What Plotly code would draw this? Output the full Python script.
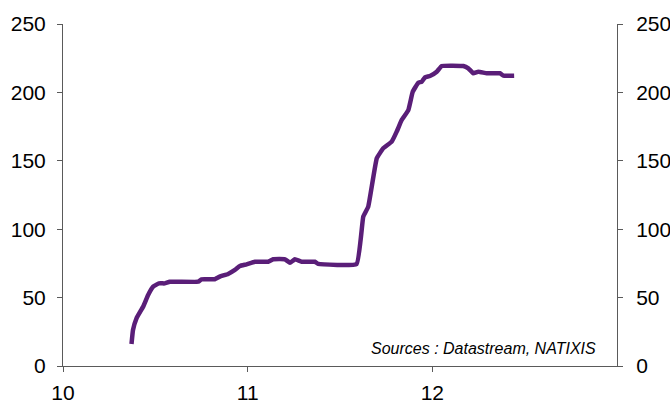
import plotly.graph_objects as go

# Data
x_vals = [10.371, 10.379, 10.398, 10.434, 10.461, 10.488, 10.520, 10.551, 10.578,
          10.732, 10.750, 10.822, 10.849, 10.894, 10.931, 10.958, 10.994, 11.039,
          11.111, 11.138, 11.202, 11.229, 11.256, 11.292, 11.364, 11.382, 11.590,
          11.626, 11.653, 11.699, 11.734, 11.780, 11.807, 11.834, 11.870, 11.894,
          11.924, 11.943, 11.960, 11.987, 12.024, 12.051, 12.168, 12.195, 12.222,
          12.249, 12.295, 12.366, 12.385, 12.443]
y_vals = [16.1, 26.3, 34.9, 43.4, 51.9, 58.0, 60.4, 60.4, 61.6,
          61.6, 63.4, 63.4, 65.3, 67.3, 70.2, 73.1, 74.3, 76.2,
          76.2, 78.0, 78.0, 75.5, 78.0, 76.2, 76.2, 74.6, 74.6,
          109.2, 116.5, 151.8, 159.1, 164.0, 171.3, 179.8, 187.1, 200.5,
          207.1, 207.8, 211.0, 212.0, 215.1, 219.3, 219.3, 217.6, 214.0,
          215.1, 214.0, 214.0, 212.2, 212.2]

x_ticks = [10, 11, 12]
x_tick_labels = ["10", "11", "12"]
y_ticks = [0, 50, 100, 150, 200, 250]
source_text = "Sources : Datastream, NATIXIS"

FONT = "Liberation Sans, Arial, sans-serif"
AX = "#5a5a5a"

fig = go.Figure()
fig.add_trace(go.Scatter(x=x_vals, y=y_vals, mode="lines",
                         line=dict(color="#5a1e78", width=4.5, shape="spline", smoothing=0.3),
                         showlegend=False, hoverinfo="skip"))
# invisible trace for the right axis
fig.add_trace(go.Scatter(x=[x_vals[0]], y=[y_vals[0]], yaxis="y2", mode="lines",
                         line=dict(width=0), showlegend=False, hoverinfo="skip"))

axis_common = dict(showgrid=False, zeroline=False, showline=True, linecolor=AX,
                   linewidth=1, ticks="outside", ticklen=5, tickcolor=AX,
                   automargin=False,
                   tickfont=dict(family=FONT, size=21, color="#000"))

fig.update_layout(
    width=670, height=403,
    margin=dict(l=63, r=53, t=24, b=37),
    paper_bgcolor="white", plot_bgcolor="white",
    xaxis=dict(range=[10, 13], tickvals=x_ticks, ticktext=x_tick_labels,
               ticklabelstandoff=3, **axis_common),
    yaxis=dict(range=[0, 250], tickvals=y_ticks, ticklabelstandoff=7, **axis_common),
    yaxis2=dict(range=[0, 250], tickvals=y_ticks, overlaying="y", side="right",
                ticklabelstandoff=9, **axis_common),
)
pw = 670 - 63 - 53
ph = 403 - 24 - 37
fig.add_annotation(text="<i>" + source_text + "</i>", x=(598 - 63) / pw, y=(366 - 348) / ph,
                   xref="paper", yref="paper", xanchor="right", yanchor="middle",
                   showarrow=False, font=dict(family=FONT, size=16, color="#000"))

fig.write_html("out.html")
